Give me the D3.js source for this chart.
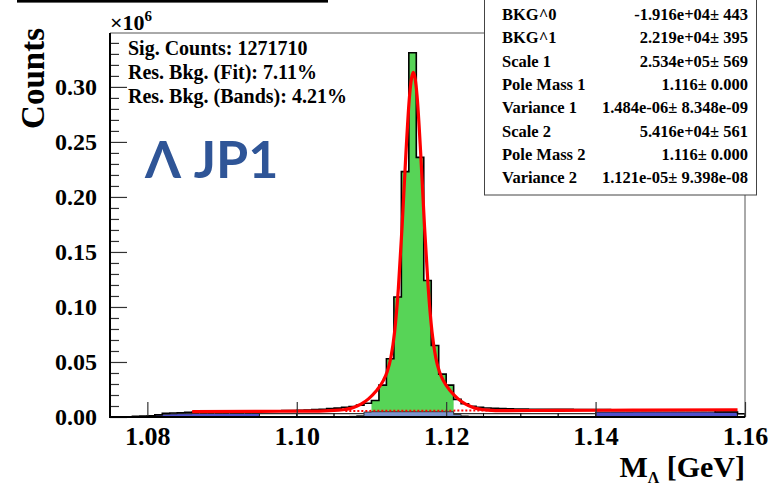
<!DOCTYPE html>
<html><head><meta charset="utf-8">
<script src="https://cdn.jsdelivr.net/npm/d3@7"></script>
<style>
html,body{margin:0;padding:0;background:#fff;}
svg{display:block;}
.serif{font-family:"Liberation Serif","DejaVu Serif",serif;font-weight:bold;}
</style></head>
<body>
<script>
// ---------- data (counts in units of 1e6) ----------
const binStart = 1.075, binWidth = 0.001;
const dataCounts = [
 0,0,0,0.0006,0.0008,0.0012,0.0020,0.0034,0.0036,0.0038,
 0.0042,0.0046,0.0047,0.0048,0.0049,0.0050,0.0051,0.0052,0.0053,0.0054,
 0.0055,0.0056,0.0057,0.0058,0.0059,0.0061,0.0064,0.0067,0.0071,0.0076,
 0.0081,0.0088,0.0096,0.0108,0.0125,0.0150,0.029,0.053,0.109,0.223,
 0.331,0.236,0.124,0.065,0.039,0.029,0.016,0.012,0.0098,0.0088,
 0.0082,0.0078,0.0076,0.0074,0.0073,0.0072,0.0071,0.0071,0.0070,0.0070,
 0.0069,0.0069,0.0068,0.0068,0.0068,0.0067,0.0067,0.0066,0.0066,0.0065,
 0.0065,0.0065,0.0064,0.0064,0.0064,0.0063,0.0063,0.0063,0.0062,0.0062,
 0.0061,0.0046,0.0045,0.0045,0.0030];
const signalStart = 1.110;
const signalCounts = [0.0150,0.029,0.053,0.109,0.223,0.331,0.236,0.124,0.065,0.039,0.029];
const bkgStart = 1.107;
const bkgCounts = [0.0006,0.0012,0.0045,0.0048,0.0048,0.0048,0.0048,0.0048,0.0048,0.0048,0.0048,0.0048,0.0048,0.0048,0.0022,0.0010,0.0006,0.0006,0.0005,0.0005];
const sideLeftStart = 1.081;
const sideLeftCounts = [0.0018,0.0025,0.0028,0.0030,0.0030,0.0032,0.0032,0.0032,0.0032,0.0032,0.0032,0.0032,0.0032,0.0032];
const sideRightStart = 1.140;
const sideRightCounts = [0.0045,0.0045,0.0045,0.0045,0.0045,0.0046,0.0046,0.0046,0.0046,0.0046,0.0046,0.0046,0.0046,0.0046,0.0046,0.0046,0.0046,0.0046,0.0046];
const coarseStart = 1.095, coarseWidth = 0.005;
const coarseCounts = [0.003,0.003,0.003,0.003,0.003,0.003,0.003,0.003,0.003];
const edgeBin = [[1.159,1.160,0.003]];
const fitX = [1.086,1.095,1.100,1.103,1.1056,1.1076,1.1086,1.1096,1.1106,1.1116,1.1121,1.1126,1.1131,1.1136,1.1141,1.1146,1.1151,1.1156,1.1161,1.1166,1.1171,1.1176,1.1181,1.1186,1.1191,1.1196,1.1206,1.1216,1.1226,1.1236,1.1256,1.1276,1.135,1.145,1.159];
const fitY = [0.0049,0.0051,0.0053,0.0054,0.0062,0.0087,0.0117,0.0165,0.0234,0.0333,0.0411,0.0541,0.0775,0.1168,0.1733,0.2383,0.2921,0.3132,0.2921,0.2383,0.1733,0.1168,0.0775,0.0541,0.0411,0.0333,0.0234,0.0165,0.0117,0.0087,0.0063,0.0058,0.0060,0.0062,0.0066];
const bkgLineX = [1.1065,1.1265];
const bkgLineY = [0.0055,0.0059];
const xTicks = [1.08,1.10,1.12,1.14,1.16];
const yTicks = [0,0.05,0.10,0.15,0.20,0.25,0.30];
const yMinorTicks = d3.range(0,35).map(i=>i/100).filter(v=>Math.round(v*100)%5!==0);
const infoLines = ["Sig. Counts: 1271710","Res. Bkg. (Fit): 7.11%","Res. Bkg. (Bands): 4.21%"];
const statNames = ["BKG^0","BKG^1","Scale 1","Pole Mass 1","Variance 1","Scale 2","Pole Mass 2","Variance 2"];
const statValues = ["-1.916e+04\u00b1 443","2.219e+04\u00b1 395","2.534e+05\u00b1 569","1.116\u00b1 0.000","1.484e-06\u00b1 8.348e-09","5.416e+04\u00b1 561","1.116\u00b1 0.000","1.121e-05\u00b1 9.398e-08"];

// ---------- layout ----------
const W = 768, H = 485;
const L = 110, R = 745, T = 33, B = 417;
const x = d3.scaleLinear().domain([1.075,1.16]).range([L,R]);
const y = d3.scaleLinear().domain([0,0.349]).range([B,T]);

const svg = d3.select("body").append("svg").attr("width",W).attr("height",H);

function bins(start,width,vals){return vals.map((v,i)=>({x0:start+i*width,x1:start+(i+1)*width,v}));}
function stepPath(bs){
  let p = `M${x(bs[0].x0)},${y(0)}`;
  bs.forEach(b=>{p+=`L${x(b.x0)},${y(b.v)}L${x(b.x1)},${y(b.v)}`;});
  p+=`L${x(bs[bs.length-1].x1)},${y(0)}`;
  return p;
}
function fillHist(bs,fill,stroke,sw){
  svg.append("path").attr("d",stepPath(bs)+"Z").attr("fill",fill)
    .attr("stroke",stroke||"none").attr("stroke-width",sw||1);
}

// coarse white histogram
const cb = bins(coarseStart,coarseWidth,coarseCounts);
svg.append("g").selectAll("rect").data(cb.concat(edgeBin.map(d=>({x0:d[0],x1:d[1],v:d[2]})))).join("rect")
  .attr("x",d=>x(d.x0)).attr("width",d=>x(d.x1)-x(d.x0))
  .attr("y",d=>y(d.v)).attr("height",d=>y(0)-y(d.v))
  .attr("fill","#fff").attr("stroke","#000").attr("stroke-width",1);

// signal (green)
fillHist(bins(signalStart,binWidth,signalCounts),"#57d457");
// background under peak (light blue)
fillHist(bins(bkgStart,binWidth,bkgCounts),"#7b93cc","#333",1);
// sidebands (blue)
fillHist(bins(sideLeftStart,binWidth,sideLeftCounts),"#5050cc","#222",1);
fillHist(bins(sideRightStart,binWidth,sideRightCounts),"#5050cc","#222",1);
// data outline
svg.append("path").attr("d",stepPath(bins(binStart,binWidth,dataCounts)))
  .attr("fill","none").attr("stroke","#000").attr("stroke-width",1.6);
// background line (dashed red)
svg.append("path").attr("d",d3.line().x(d=>x(d[0])).y(d=>y(d[1]))(bkgLineX.map((v,i)=>[v,bkgLineY[i]])))
  .attr("fill","none").attr("stroke","#ff0000").attr("stroke-width",2).attr("stroke-dasharray","2,2");
// fit curve
svg.append("path").attr("d",d3.line().curve(d3.curveMonotoneX).x(d=>x(d[0])).y(d=>y(d[1]))(fitX.map((v,i)=>[v,fitY[i]])))
  .attr("fill","none").attr("stroke","#ff0000").attr("stroke-width",3.2);

// frame
svg.append("line").attr("x1",L).attr("x2",R).attr("y1",T).attr("y2",T).attr("stroke","#555").attr("stroke-width",1);
svg.append("line").attr("x1",R).attr("x2",R).attr("y1",T).attr("y2",B).attr("stroke","#555").attr("stroke-width",1);

// axes
const yAxis = svg.append("g").attr("transform",`translate(${L},0)`).attr("class","serif")
  .call(d3.axisLeft(y).tickValues(yTicks).tickFormat(d3.format(".2f")).tickSizeInner(-17).tickSizeOuter(0).tickPadding(13));
const yMinor = svg.append("g").attr("transform",`translate(${L},0)`)
  .call(d3.axisLeft(y).tickValues(yMinorTicks).tickFormat("").tickSizeInner(-9).tickSizeOuter(0));
const xAxis = svg.append("g").attr("transform",`translate(0,${B})`).attr("class","serif")
  .call(d3.axisBottom(x).tickValues(xTicks).tickFormat(d3.format(".2f")).tickSizeInner(-15).tickSizeOuter(0).tickPadding(10));
[yAxis,yMinor,xAxis].forEach(g=>{g.select(".domain").remove();g.selectAll("line").attr("stroke","#333").attr("stroke-width",1.2);});
yAxis.selectAll("text").attr("font-size",24).attr("fill","#000").attr("font-family",null);
xAxis.selectAll("text").attr("font-size",26).attr("fill","#000").attr("font-family",null);
svg.append("line").attr("x1",L).attr("x2",L).attr("y1",T).attr("y2",B+1).attr("stroke","#000").attr("stroke-width",2);
svg.append("line").attr("x1",L-1).attr("x2",R).attr("y1",B).attr("y2",B).attr("stroke","#000").attr("stroke-width",2.2);

// exponent
const ex = svg.append("text").attr("class","serif").attr("x",L).attr("y",30).attr("font-size",22);
ex.append("tspan").text("\u00d710");
ex.append("tspan").attr("font-size",15).attr("dy",-9).text("6");

// axis titles
svg.append("text").attr("class","serif").attr("font-size",33).attr("text-anchor","end")
  .attr("transform","translate(44,28) rotate(-90)").text("Counts");
const xt = svg.append("text").attr("class","serif").attr("font-size",30).attr("text-anchor","end").attr("x",R).attr("y",477);
xt.append("tspan").text("M");
xt.append("tspan").attr("font-size",16).attr("dy",6).text("\u039b");
xt.append("tspan").attr("dy",-6).text(" [GeV]");

// info text
svg.append("g").selectAll("text").data(infoLines).join("text").attr("class","serif")
  .attr("x",128).attr("y",(d,i)=>55+i*24).attr("font-size",20).text(d=>d);

// Lambda JP1
svg.append("text").attr("x",145).attr("y",178).attr("font-family","Lato, 'Open Sans', sans-serif")
  .attr("font-weight","bold").attr("font-size",52).attr("fill","#2f5597").text("\u039b JP1");

// top-left bar
svg.append("rect").attr("x",17).attr("y",0).attr("width",311).attr("height",2.6).attr("fill","#000");

// stats box
svg.append("rect").attr("x",484.5).attr("y",-2).attr("width",272).attr("height",197).attr("fill","#fff").attr("stroke","#444").attr("stroke-width",1);
const sg = svg.append("g").attr("class","serif").attr("font-size",16.5);
sg.selectAll("text.n").data(statNames).join("text").attr("class","n").attr("x",502).attr("y",(d,i)=>20+i*23.3).text(d=>d);
sg.selectAll("text.v").data(statValues).join("text").attr("class","v").attr("x",748).attr("text-anchor","end").attr("y",(d,i)=>20+i*23.3).text(d=>d);
</script>
</body></html>
